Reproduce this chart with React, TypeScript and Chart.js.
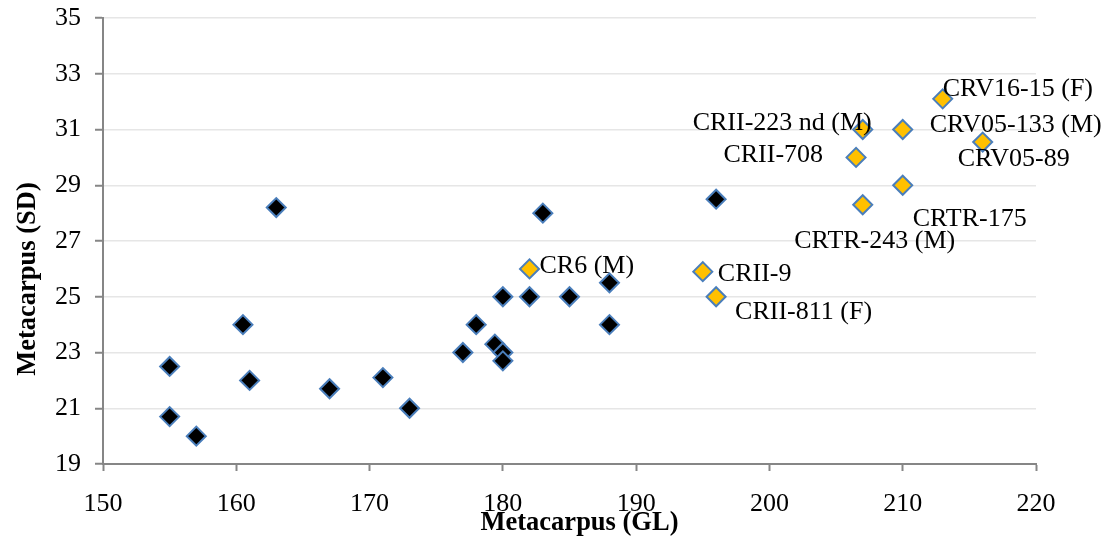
import React, { useEffect, useRef } from "react";
import { Chart, registerables } from "chart.js";

Chart.register(...registerables);

// Black series (unlabelled specimens)
const blackGL = [155, 155, 157, 160.5, 161, 163, 167, 171, 173, 177, 178, 179.4, 180, 180, 180, 182, 183, 185, 188, 188, 196];
const blackSD = [22.5, 20.7, 20.0, 24.0, 22.0, 28.2, 21.7, 22.1, 21.0, 23.0, 24.0, 23.3, 23.0, 22.7, 25.0, 25.0, 28.0, 25.0, 25.5, 24.0, 28.5];

// Yellow series (labelled specimens)
const yellowNames = [
  "CR6 (M)",
  "CRII-9",
  "CRII-811 (F)",
  "CRII-223 nd (M)",
  "CRV05-133 (M)",
  "CRV16-15 (F)",
  "CRV05-89",
  "CRII-708",
  "CRTR-175",
  "CRTR-243 (M)",
];
const yellowGL = [182, 195, 196, 207, 210, 213, 216, 206.5, 210, 207];
const yellowSD = [26.0, 25.9, 25.0, 31.0, 31.0, 32.1, 30.55, 30.0, 29.0, 28.3];

// Label placement relative to each labelled marker (pixels, alignment)
const labelPlacement: [number, number, CanvasTextAlign][] = [
  [10, -2.5, "left"],
  [15, 2.5, "left"],
  [19, 15, "left"],
  [9, -6.5, "right"],
  [27, -4.5, "left"],
  [0, -10, "left"],
  [-25, 17, "left"],
  [-33, -2, "right"],
  [10, 33.5, "left"],
  [12, 36, "center"],
];

const xTitle = "Metacarpus (GL)";
const yTitle = "Metacarpus (SD)";

const SERIF = "'Liberation Serif', 'Times New Roman', serif";

export default function App() {
  const ref = useRef<HTMLCanvasElement | null>(null);

  useEffect(() => {
    if (!ref.current) return;
    const labelsPlugin = {
      id: "pointLabels",
      afterDatasetsDraw(chart: any) {
        const ctx = chart.ctx as CanvasRenderingContext2D;
        const meta = chart.getDatasetMeta(1);
        ctx.save();
        ctx.fillStyle = "#000";
        ctx.font = `26px ${SERIF}`;
        ctx.textBaseline = "middle";
        meta.data.forEach((pt: any, i: number) => {
          const [dx, dy, align] = labelPlacement[i];
          ctx.textAlign = align;
          ctx.fillText(yellowNames[i], pt.x + dx, pt.y + dy);
        });
        // axis titles
        const ca = chart.chartArea;
        ctx.font = `bold 26.5px ${SERIF}`;
        ctx.textAlign = "center";
        ctx.fillText(xTitle, (ca.left + ca.right) / 2 + 10, 523);
        ctx.translate(28, 279);
        ctx.rotate(-Math.PI / 2);
        ctx.fillText(yTitle, 0, 0);
        ctx.restore();
      },
    };

    const chart = new Chart(ref.current, {
      type: "scatter",
      data: {
        datasets: [
          {
            label: "black",
            data: blackGL.map((x, i) => ({ x, y: blackSD[i] })),
            pointStyle: "rectRot",
            radius: 9.5,
            backgroundColor: "#000000",
            borderColor: "#4a7ebb",
            borderWidth: 2,
          },
          {
            label: "yellow",
            data: yellowGL.map((x, i) => ({ x, y: yellowSD[i] })),
            pointStyle: "rectRot",
            radius: 9.5,
            backgroundColor: "#ffc000",
            borderColor: "#4a7ebb",
            borderWidth: 2,
          },
        ],
      },
      options: {
        responsive: false,
        animation: false,
        layout: { padding: { top: 18, right: 82, left: 0, bottom: 0 } },
        plugins: {
          legend: { display: false },
          tooltip: { enabled: false },
          title: { display: false },
        },
        scales: {
          x: {
            type: "linear",
            min: 150,
            max: 220,
            ticks: {
              stepSize: 10,
              color: "#000",
              font: { family: SERIF, size: 26 },
              padding: 18,
            },
            grid: {
              drawOnChartArea: false,
              drawTicks: true,
              tickLength: 7,
              tickColor: "#868686",
              tickWidth: 2,
            },
            border: { color: "#868686", width: 2 },
            afterFit: (s: any) => {
              s.height = 80;
              s.paddingLeft = 0;
              s.paddingRight = 0;
            },
          },
          y: {
            type: "linear",
            min: 19,
            max: 35,
            ticks: {
              stepSize: 2,
              color: "#000",
              font: { family: SERIF, size: 26 },
              padding: 14,
            },
            grid: {
              color: "#e6e6e6",
              lineWidth: 1.5,
              tickLength: 8,
              tickColor: "#868686",
              tickWidth: 2,
            },
            border: { color: "#868686", width: 2 },
            afterFit: (s: any) => {
              s.width = 103;
              s.paddingTop = 0;
              s.paddingBottom = 0;
            },
          },
        },
      },
      plugins: [labelsPlugin],
    });
    return () => chart.destroy();
  }, []);

  return (
    <div style={{ position: "absolute", left: 0, top: 0, width: 1118, height: 544, background: "#fff" }}>
      <canvas ref={ref} width={1118} height={544} />
    </div>
  );
}
